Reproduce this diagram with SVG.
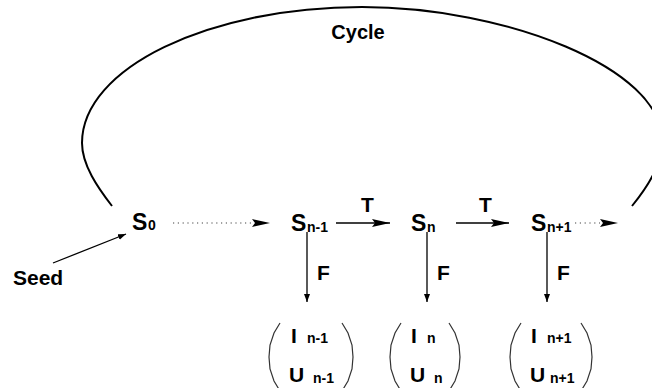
<svg xmlns="http://www.w3.org/2000/svg" width="652" height="388" viewBox="0 0 652 388">
<style>
text{font-family:"Liberation Sans",Arial,sans-serif;fill:#000;font-weight:bold}
.big{font-size:23px}
.sub{font-size:14px}
.lbl{font-size:21px}
.ln{stroke:#000;stroke-width:1.3;fill:none}
.dot{stroke:#444;stroke-width:1.2;fill:none;stroke-dasharray:1.2 3.6}
.par{stroke:#333;stroke-width:1.2;fill:none}
</style>
<defs>
<marker id="big" markerUnits="userSpaceOnUse" markerWidth="20" markerHeight="10" refX="18" refY="4" orient="auto">
<path d="M0,0 L18,4 L0,8 L3,4 Z" fill="#000"/>
</marker>
<marker id="sm" markerUnits="userSpaceOnUse" markerWidth="10" markerHeight="8" refX="8" refY="3" orient="auto">
<path d="M0,0 L8,3 L0,6 Z" fill="#000"/>
</marker>
</defs>
<g id="connectors">
<path id="cycle-arc" d="M112,206 C98,188 82,165 82,143 C82,68 209,7 362,7 C505,7 662,68 662,140 C662,165 648,186 632,206" stroke="#000" stroke-width="2" fill="none"/>
<text x="358" y="39" font-size="20" text-anchor="middle">Cycle</text>
<line class="ln" x1="53" y1="263" x2="126" y2="234" marker-end="url(#sm)"/>
<line class="dot" x1="173" y1="223" x2="253" y2="223"/>
<path d="M252,219 L270,223 L252,227 L255,223 Z" fill="#000"/>
<line class="ln" x1="336" y1="223" x2="390" y2="223" marker-end="url(#big)"/>
<text class="lbl" x="361" y="212">T</text>
<line class="ln" x1="456" y1="223" x2="509" y2="223" marker-end="url(#big)"/>
<text class="lbl" x="479" y="212">T</text>
<line class="dot" x1="575" y1="223" x2="600" y2="223"/>
<path d="M600,219 L618,223 L600,227 L603,223 Z" fill="#000"/>
<line class="ln" x1="307" y1="232" x2="307" y2="302" marker-end="url(#sm)"/>
<text class="lbl" x="317" y="280">F</text>
<line class="ln" x1="427" y1="232" x2="427" y2="302" marker-end="url(#sm)"/>
<text class="lbl" x="437" y="280">F</text>
<line class="ln" x1="547" y1="232" x2="547" y2="302" marker-end="url(#sm)"/>
<text class="lbl" x="557" y="280">F</text>
</g>
<g id="seed"><text class="lbl" x="13" y="285">Seed</text></g>
<g id="s0"><text class="big" x="132" y="230">S</text><text class="sub" x="148" y="230">0</text></g>
<g id="sn-1"><text class="big" x="291" y="231">S</text><text class="sub" x="307" y="232">n-1</text></g>
<g id="sn"><text class="big" x="411" y="231">S</text><text class="sub" x="427" y="232">n</text></g>
<g id="sn+1"><text class="big" x="531" y="231">S</text><text class="sub" x="547" y="232">n+1</text></g>
<g id="out-n-1">
<path class="par" d="M280,323 L274,333 L270,345 L269,357 L270,369 L274,381 L280,391"/>
<path class="par" d="M342,323 L348,333 L352,345 L353,357 L352,369 L348,381 L342,391"/>
<text class="lbl" x="291" y="343">I</text><text class="sub" x="307" y="343">n-1</text>
<text class="lbl" x="289" y="382">U</text><text class="sub" x="313" y="383">n-1</text>
</g>
<g id="out-n">
<path class="par" d="M401,323 L395,333 L391,345 L390,357 L391,369 L395,381 L401,391"/>
<path class="par" d="M449,323 L455,333 L459,345 L460,357 L459,369 L455,381 L449,391"/>
<text class="lbl" x="411" y="343">I</text><text class="sub" x="427" y="343">n</text>
<text class="lbl" x="410" y="382">U</text><text class="sub" x="434" y="383">n</text>
</g>
<g id="out-n+1">
<path class="par" d="M521,323 L515,333 L511,345 L510,357 L511,369 L515,381 L521,391"/>
<path class="par" d="M581,323 L587,333 L591,345 L592,357 L591,369 L587,381 L581,391"/>
<text class="lbl" x="531" y="343">I</text><text class="sub" x="547" y="343">n+1</text>
<text class="lbl" x="530" y="382">U</text><text class="sub" x="550" y="383">n+1</text>
</g>
</svg>
